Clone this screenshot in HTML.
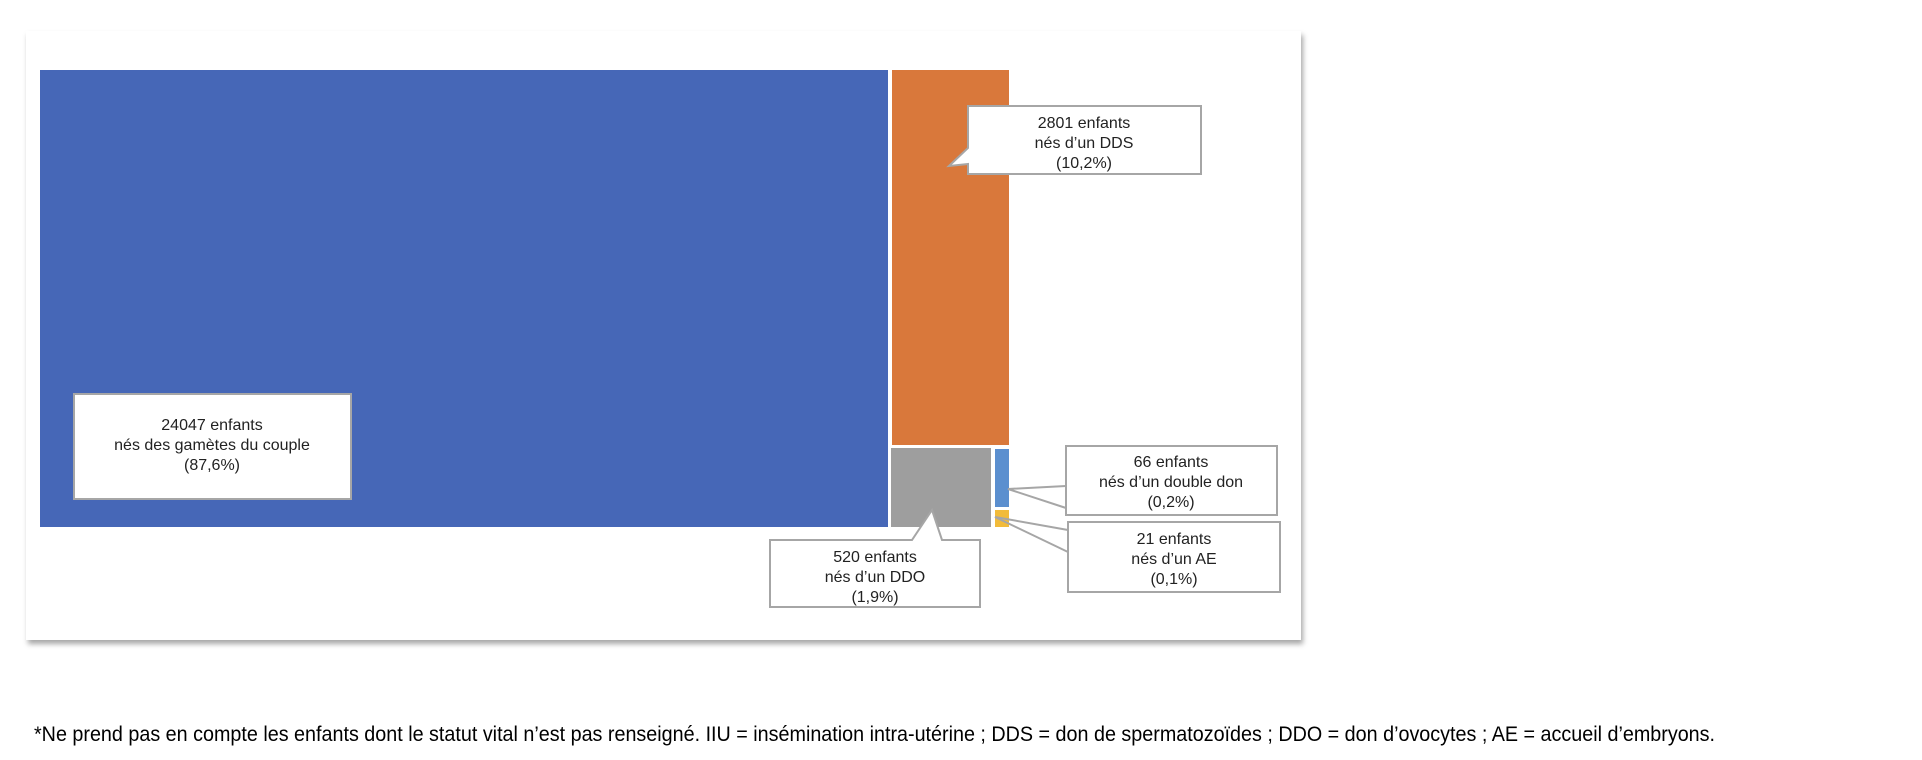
<!DOCTYPE html>
<html><head><meta charset="utf-8"><style>
body{margin:0;width:1922px;height:760px;background:#fff;position:relative;overflow:hidden;font-family:"Liberation Sans",sans-serif}
.panel{position:absolute;left:26px;top:31px;width:1275px;height:609px;background:#fff;box-shadow:2px 4px 5px rgba(0,0,0,0.35)}
.r{position:absolute}
.foot{position:absolute;left:34px;top:723px;font-size:21px;white-space:nowrap;transform:scaleX(0.94);transform-origin:left top;color:#000}
</style></head><body>
<div class="panel"></div>
<div class="r" style="left:40px;top:70px;width:848px;height:457px;background:#4667b7"></div>
<div class="r" style="left:892px;top:70px;width:117px;height:375px;background:#d9783b"></div>
<div class="r" style="left:891px;top:448px;width:100px;height:79px;background:#9e9e9e"></div>
<div class="r" style="left:995px;top:449px;width:14px;height:58px;background:#5b8fcf"></div>
<div class="r" style="left:995px;top:510px;width:14px;height:17px;background:#f2bb3a"></div>
<svg class="r" style="left:0;top:0" width="1922" height="760">
<g stroke="#a6a6a6" stroke-width="2" fill="none">
<path d="M1066,486 L1008,489 L1066,508"/>
<path d="M1068,530 L995,517 L1068,552"/>
</g>
<g fill="#fff" stroke="#a6a6a6" stroke-width="2">
<rect x="74" y="394" width="277" height="105"/>
<path d="M968,106 H1201 V174 H968 V164 L949,166 L968,148 Z"/>
<path d="M770,540 H912 L932,510 L942,540 H980 V607 H770 Z"/>
<rect x="1066" y="446" width="211" height="69"/>
<rect x="1068" y="522" width="212" height="70"/>
</g>
<g font-family="Liberation Sans, sans-serif" font-size="16" fill="#222" text-anchor="middle">
<text x="212" y="430">24047 enfants</text><text x="212" y="450">nés des gamètes du couple</text><text x="212" y="470">(87,6%)</text>
<text x="1084" y="128">2801 enfants</text><text x="1084" y="148">nés d’un DDS</text><text x="1084" y="168">(10,2%)</text>
<text x="875" y="562">520 enfants</text><text x="875" y="582">nés d’un DDO</text><text x="875" y="602">(1,9%)</text>
<text x="1171" y="467">66 enfants</text><text x="1171" y="487">nés d’un double don</text><text x="1171" y="507">(0,2%)</text>
<text x="1174" y="544">21 enfants</text><text x="1174" y="564">nés d’un AE</text><text x="1174" y="584">(0,1%)</text>
</g>
</svg>
<div class="foot">*Ne prend pas en compte les enfants dont le statut vital n’est pas renseigné. IIU = insémination intra-utérine ; DDS = don de spermatozoïdes ; DDO = don d’ovocytes ; AE = accueil d’embryons.</div>
</body></html>
